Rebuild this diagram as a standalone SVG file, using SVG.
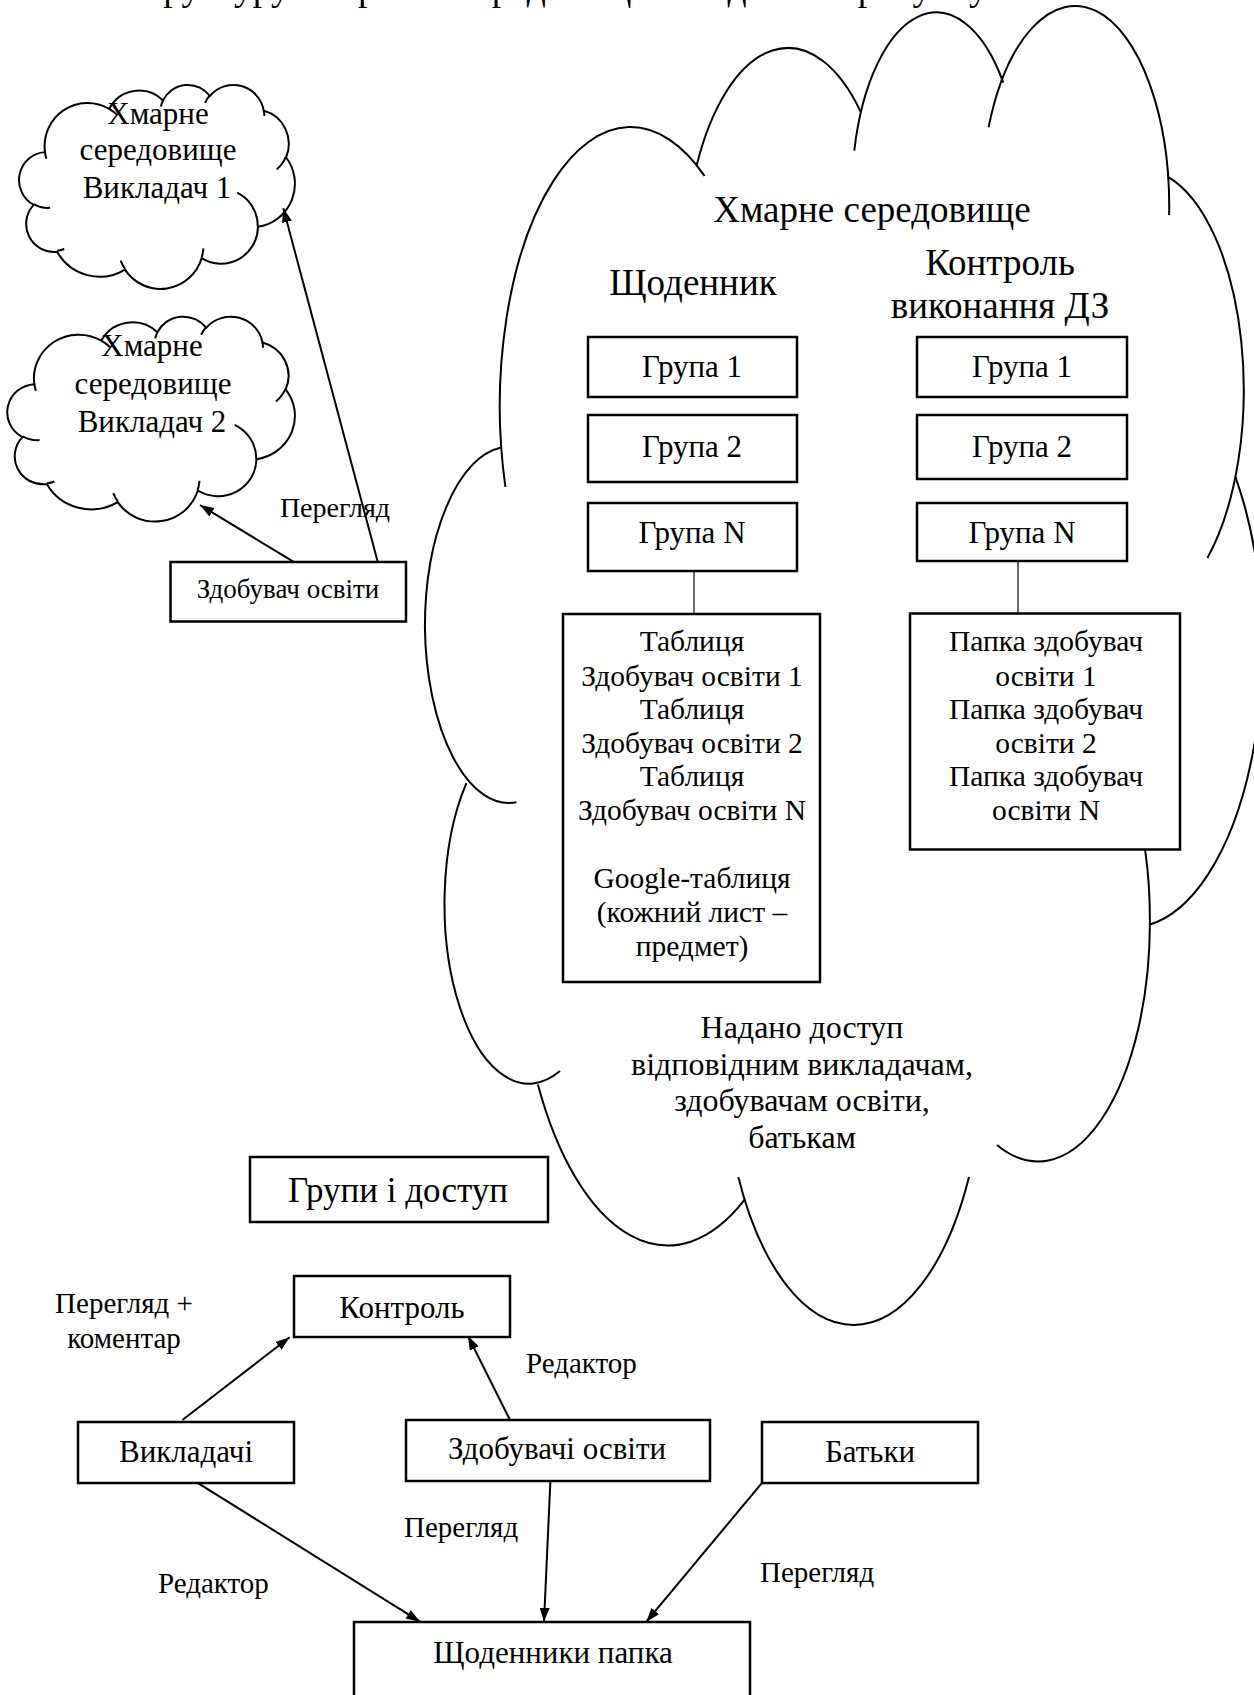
<svg xmlns="http://www.w3.org/2000/svg" width="1254" height="1695" viewBox="0 0 1254 1695">
<style>
.t{font-family:"Liberation Serif","Times New Roman",serif;fill:#000}
.m{text-anchor:middle}
.cl{fill:none;stroke:#000;stroke-width:2}
.cs{fill:none;stroke:#000;stroke-width:2;vector-effect:non-scaling-stroke}
.cw{fill:#fff;stroke:#000;stroke-width:2;vector-effect:non-scaling-stroke}
.bx{fill:#fff;stroke:#000;stroke-width:2.5}
.ln{fill:none;stroke:#000;stroke-width:2}
.thin{fill:none;stroke:#000;stroke-width:1.2}
</style>
<defs>
<marker id="ah" markerUnits="userSpaceOnUse" markerWidth="16" markerHeight="12" refX="14" refY="5" orient="auto">
<path d="M0,0 L14,5 L0,10 Z" fill="#000"/>
</marker>
</defs>

<text class="t" x="122" y="0" font-size="37.5">Структуру хмарного середовища наведено на рисунку</text>

<g id="big-cloud">
<path class="cl" d="M505.4,486.8 A130.8,279.1 0 0 1 704.6,176"/>
<path class="cl" d="M696.7,165.3 A103.3,220.7 0 0 1 860.5,111.5"/>
<path class="cl" d="M854.3,150.6 A84.5,180.6 0 0 1 1003.3,82.6"/>
<path class="cl" d="M988.6,127.3 A94.1,200.3 0 0 1 1169.1,215"/>
<path class="cl" d="M1167.6,176.6 A103.3,220.9 0 0 1 1207.4,558"/>
<path class="cl" d="M1235.4,476.8 A131.2,280 0 0 1 1149.9,924.5"/>
<path class="cl" d="M1086.4,704.4 A112,238.9 0 0 1 1149.9,922.5 A112,238.9 0 0 1 997,1145"/>
<path class="cl" d="M969,1177 A130.8,279.9 0 0 1 738.3,1177"/>
<path class="cl" d="M744.7,1199.7 A149.5,320.2 0 0 1 537.9,1084.5"/>
<path class="cl" d="M560,1071 A84.4,179.7 0 0 1 466.4,783.2"/>
<path class="cl" d="M516.4,802.3 A84.1,180.6 0 0 1 424.9,627.4 A84.1,180.6 0 0 1 500.3,447.8"/>
<text class="t m" x="872" y="222" font-size="37">Хмарне середовище</text>
<text class="t m" x="693" y="295" font-size="37">Щоденник</text>
<text class="t m" x="1000" y="275" font-size="37">Контроль</text>
<text class="t m" x="1000" y="318" font-size="37">виконання ДЗ</text>
<text class="t m" x="802" y="1038" font-size="32">Надано доступ</text>
<text class="t m" x="802" y="1075" font-size="32">відповідним викладачам,</text>
<text class="t m" x="802" y="1111" font-size="32">здобувачам освіти,</text>
<text class="t m" x="802" y="1148" font-size="32">батькам</text>
</g>

<g id="cloud-teacher1">
<g transform="translate(20.2,84.3) scale(0.006356,0.00472)">
<path class="cw" d="M3900,14370 A6753,9190 0 0 1 14006.6,5203.1 A5333,7267 0 0 1 22457.9,3432 A4365,5945 0 0 1 29836.5,2480.5 A4857,6595 0 0 1 38321.9,5575.6 A5333,7273 0 0 1 41822.5,15459.4 A6775,9220 0 0 1 37407.1,30200.3 A5785,7867 0 0 1 28558.4,36810.3 A6752,9215 0 0 1 16483,39263.4 A7720,10543 0 0 1 5804.9,35468.3 A4360,5918 0 0 1 2112.6,25548.3 A4345,5945 0 0 1 3900,14370 Z"/>
<path class="cs" d="M4693,26177 A4345,5945 0 0 1 2159.1,25379.3 M6928,34899 A4360,5918 0 0 1 5818.6,35280.9 M16478,39090 A6752,9215 0 0 1 15810,37348.9 M28827,34751 A6752,9215 0 0 1 28560.5,36659.6 M34129,22954 A5785,7867 0 0 1 37380,30088.9 M41798,15354 A5333,7273 0 0 1 40350.3,18029.8 M38324,5426 A4857,6595 0 0 1 38400.4,6689.3 M29078,3952 A4857,6595 0 0 1 29819.8,2339.9 M22141,4720 A4365,5945 0 0 1 22499.7,3331.8 M14000,5192 A6753,9190 0 0 1 15297.1,6537.4 M4127,15789 A6753,9190 0 0 1 3900.2,14370"/>
</g>
<text class="t m" x="158" y="124" font-size="31">Хмарне</text>
<text class="t m" x="158" y="160" font-size="31">середовище</text>
<text class="t m" x="157" y="198" font-size="31">Викладач 1</text>
</g>

<g id="cloud-teacher2">
<g transform="translate(8.5,316) scale(0.006627,0.004741)">
<path class="cw" d="M3900,14370 A6753,9190 0 0 1 14006.6,5203.1 A5333,7267 0 0 1 22457.9,3432 A4365,5945 0 0 1 29836.5,2480.5 A4857,6595 0 0 1 38321.9,5575.6 A5333,7273 0 0 1 41822.5,15459.4 A6775,9220 0 0 1 37407.1,30200.3 A5785,7867 0 0 1 28558.4,36810.3 A6752,9215 0 0 1 16483,39263.4 A7720,10543 0 0 1 5804.9,35468.3 A4360,5918 0 0 1 2112.6,25548.3 A4345,5945 0 0 1 3900,14370 Z"/>
<path class="cs" d="M4693,26177 A4345,5945 0 0 1 2159.1,25379.3 M6928,34899 A4360,5918 0 0 1 5818.6,35280.9 M16478,39090 A6752,9215 0 0 1 15810,37348.9 M28827,34751 A6752,9215 0 0 1 28560.5,36659.6 M34129,22954 A5785,7867 0 0 1 37380,30088.9 M41798,15354 A5333,7273 0 0 1 40350.3,18029.8 M38324,5426 A4857,6595 0 0 1 38400.4,6689.3 M29078,3952 A4857,6595 0 0 1 29819.8,2339.9 M22141,4720 A4365,5945 0 0 1 22499.7,3331.8 M14000,5192 A6753,9190 0 0 1 15297.1,6537.4 M4127,15789 A6753,9190 0 0 1 3900.2,14370"/>
</g>
<text class="t m" x="152" y="356" font-size="31">Хмарне</text>
<text class="t m" x="153" y="394" font-size="31">середовище</text>
<text class="t m" x="152" y="432" font-size="31">Викладач 2</text>
</g>

<g id="connectors">
<line class="ln" x1="377.7" y1="561.7" x2="283.3" y2="208.3" marker-end="url(#ah)"/>
<line class="ln" x1="293.3" y1="561.7" x2="200" y2="505" marker-end="url(#ah)"/>
<line class="thin" x1="694" y1="571" x2="694" y2="614"/>
<line class="thin" x1="1018" y1="561" x2="1018" y2="613"/>
<line class="ln" x1="182.4" y1="1420" x2="289.6" y2="1337.3" marker-end="url(#ah)"/>
<line class="ln" x1="509.6" y1="1419.3" x2="468" y2="1336" marker-end="url(#ah)"/>
<line class="ln" x1="198.4" y1="1483.3" x2="420" y2="1621.7" marker-end="url(#ah)"/>
<line class="ln" x1="550.4" y1="1480.7" x2="544" y2="1621.7" marker-end="url(#ah)"/>
<line class="ln" x1="761.6" y1="1483.3" x2="646.4" y2="1621.7" marker-end="url(#ah)"/>
<text class="t m" x="335" y="517" font-size="28">Перегляд</text>
<text class="t m" x="124" y="1313" font-size="29">Перегляд +</text>
<text class="t m" x="124" y="1348" font-size="29">коментар</text>
<text class="t" x="526" y="1373" font-size="29">Редактор</text>
<text class="t" x="404" y="1537" font-size="29">Перегляд</text>
<text class="t" x="158" y="1593" font-size="29">Редактор</text>
<text class="t" x="760" y="1582" font-size="29">Перегляд</text>
</g>

<g id="student-box">
<rect class="bx" x="170.5" y="562" width="235.5" height="59.5"/>
<text class="t m" x="288" y="598" font-size="27">Здобувач освіти</text>
</g>

<g id="diary-g1"><rect class="bx" x="588" y="337" width="209" height="60"/><text class="t m" x="692" y="377" font-size="31">Група 1</text></g>
<g id="diary-g2"><rect class="bx" x="588" y="415" width="209" height="67"/><text class="t m" x="692" y="457" font-size="31">Група 2</text></g>
<g id="diary-gn"><rect class="bx" x="588" y="503" width="209" height="68"/><text class="t m" x="692" y="543" font-size="31">Група N</text></g>
<g id="hw-g1"><rect class="bx" x="917" y="337" width="210" height="60"/><text class="t m" x="1022" y="377" font-size="31">Група 1</text></g>
<g id="hw-g2"><rect class="bx" x="917" y="415" width="210" height="64"/><text class="t m" x="1022" y="457" font-size="31">Група 2</text></g>
<g id="hw-gn"><rect class="bx" x="917" y="503" width="210" height="58"/><text class="t m" x="1022" y="543" font-size="31">Група N</text></g>

<g id="tables-box">
<rect class="bx" x="563" y="614" width="257" height="368"/>
<text class="t m" x="692" y="651" font-size="29.5">Таблиця</text>
<text class="t m" x="692" y="686" font-size="29.5">Здобувач освіти 1</text>
<text class="t m" x="692" y="719" font-size="29.5">Таблиця</text>
<text class="t m" x="692" y="753" font-size="29.5">Здобувач освіти 2</text>
<text class="t m" x="692" y="786" font-size="29.5">Таблиця</text>
<text class="t m" x="692" y="820" font-size="29.5">Здобувач освіти N</text>
<text class="t m" x="692" y="888" font-size="29.5">Google-таблиця</text>
<text class="t m" x="692" y="922" font-size="29.5">(кожний лист –</text>
<text class="t m" x="692" y="956" font-size="29.5">предмет)</text>
</g>

<g id="folders-box">
<rect class="bx" x="910" y="613.5" width="270" height="236"/>
<text class="t m" x="1046" y="651" font-size="29.5">Папка здобувач</text>
<text class="t m" x="1046" y="686" font-size="29.5">освіти 1</text>
<text class="t m" x="1046" y="719" font-size="29.5">Папка здобувач</text>
<text class="t m" x="1046" y="753" font-size="29.5">освіти 2</text>
<text class="t m" x="1046" y="786" font-size="29.5">Папка здобувач</text>
<text class="t m" x="1046" y="820" font-size="29.5">освіти N</text>
</g>

<g id="groups-access">
<rect class="bx" x="250" y="1157" width="298" height="65"/>
<text class="t m" x="398" y="1202" font-size="35">Групи і доступ</text>
</g>

<g id="control"><rect class="bx" x="294" y="1276" width="216" height="61"/><text class="t m" x="402" y="1318" font-size="31">Контроль</text></g>
<g id="teachers"><rect class="bx" x="78" y="1422" width="216" height="61"/><text class="t m" x="186" y="1462" font-size="31">Викладачі</text></g>
<g id="students"><rect class="bx" x="406" y="1420" width="304" height="61"/><text class="t m" x="557" y="1459" font-size="31">Здобувачі освіти</text></g>
<g id="parents"><rect class="bx" x="762" y="1422" width="216" height="61"/><text class="t m" x="870" y="1462" font-size="31">Батьки</text></g>
<g id="diaries-folder"><rect class="bx" x="354" y="1622" width="396" height="90"/><text class="t m" x="553" y="1663" font-size="31">Щоденники папка</text></g>
</svg>
